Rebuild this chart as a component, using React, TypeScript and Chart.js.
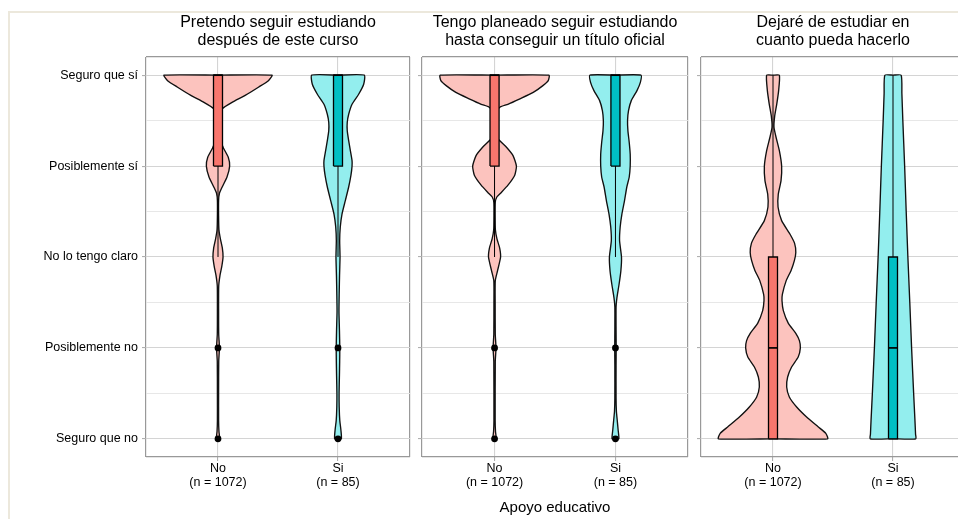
import React, { useEffect, useRef } from 'react';
import { Chart, registerables } from 'chart.js';

Chart.register(...registerables);
Chart.defaults.font.family = "'Liberation Sans', Arial, Helvetica, sans-serif";
Chart.defaults.color = '#000';

// ---------- text ----------
const answerLevels = ['Seguro que no', 'Posiblemente no', 'No lo tengo claro', 'Posiblemente sí', 'Seguro que sí'];
const groupNames = ['No', 'Si'];
const groupSizes = ['(n = 1072)', '(n = 85)'];
const panelTitles: string[][] = [
  ['Pretendo seguir estudiando', 'después de este curso'],
  ['Tengo planeado seguir estudiando', 'hasta conseguir un título oficial'],
  ['Dejaré de estudiar en', 'cuanto pueda hacerlo'],
];
const xAxisTitle = 'Apoyo educativo';

// ---------- violin half-widths: [answer level (1..5), half width in group units] ----------
const violinP1No: [number, number][] = [
  [1.0, 0.014], [1.08, 0.008], [1.2, 0.005], [1.5, 0.005], [1.85, 0.006], [2.0, 0.012], [2.15, 0.006],
  [2.4, 0.005], [2.68, 0.006], [2.8, 0.017], [2.9, 0.032], [3.0, 0.042], [3.1, 0.036], [3.2, 0.02],
  [3.3, 0.008], [3.45, 0.005], [3.62, 0.005], [3.7, 0.012], [3.77, 0.035], [3.88, 0.075], [4.0, 0.097],
  [4.1, 0.085], [4.2, 0.045], [4.3, 0.02], [4.45, 0.016], [4.56, 0.02], [4.63, 0.035], [4.7, 0.117],
  [4.78, 0.23], [4.87, 0.34], [4.94, 0.42], [5.0, 0.45],
];
const violinP1Si: [number, number][] = [
  [1.0, 0.028], [1.1, 0.024], [1.2, 0.015], [1.35, 0.01], [1.5, 0.009], [1.7, 0.012], [1.85, 0.014],
  [2.0, 0.015], [2.2, 0.012], [2.4, 0.008], [2.6, 0.01], [2.8, 0.013], [3.0, 0.017], [3.18, 0.014],
  [3.33, 0.019], [3.47, 0.033], [3.62, 0.061], [3.77, 0.089], [3.9, 0.108], [4.0, 0.117], [4.06, 0.117],
  [4.17, 0.103], [4.28, 0.089], [4.39, 0.077], [4.48, 0.077], [4.57, 0.089], [4.68, 0.117], [4.79, 0.172],
  [4.9, 0.214], [5.0, 0.219],
];
const violinP2No: [number, number][] = [
  [1.0, 0.014], [1.08, 0.008], [1.2, 0.005], [1.85, 0.006], [2.0, 0.012], [2.15, 0.006], [2.5, 0.005],
  [2.74, 0.006], [2.85, 0.025], [3.0, 0.05], [3.1, 0.042], [3.2, 0.02], [3.3, 0.007], [3.45, 0.005],
  [3.6, 0.006], [3.66, 0.019], [3.71, 0.056], [3.79, 0.111], [3.9, 0.167], [4.0, 0.181], [4.115, 0.153],
  [4.21, 0.097], [4.3, 0.03], [4.4, 0.018], [4.52, 0.016], [4.61, 0.022], [4.65, 0.047], [4.68, 0.11],
  [4.74, 0.21], [4.81, 0.32], [4.885, 0.4], [4.94, 0.444], [5.0, 0.45],
];
const violinP2Si: [number, number][] = [
  [1.0, 0.028], [1.1, 0.022], [1.2, 0.015], [1.3, 0.008], [1.45, 0.005], [1.8, 0.005], [2.0, 0.006],
  [2.2, 0.005], [2.45, 0.005], [2.55, 0.012], [2.7, 0.03], [2.85, 0.045], [3.0, 0.05], [3.18, 0.034],
  [3.33, 0.039], [3.47, 0.053], [3.62, 0.075], [3.77, 0.094], [3.88, 0.114], [4.0, 0.122], [4.13, 0.122],
  [4.26, 0.114], [4.39, 0.103], [4.5, 0.1], [4.61, 0.108], [4.72, 0.131], [4.83, 0.178], [4.92, 0.206],
  [5.0, 0.211],
];
const violinP3No: [number, number][] = [
  [1.0, 0.455], [1.06, 0.44], [1.13, 0.378], [1.24, 0.28], [1.35, 0.197], [1.46, 0.136], [1.57, 0.114],
  [1.68, 0.122], [1.79, 0.155], [1.9, 0.21], [2.0, 0.228], [2.08, 0.22], [2.16, 0.19], [2.27, 0.128],
  [2.41, 0.086], [2.52, 0.075], [2.59, 0.078], [2.74, 0.11], [2.85, 0.15], [2.96, 0.178], [3.05, 0.19],
  [3.15, 0.18], [3.25, 0.142], [3.4, 0.072], [3.55, 0.042], [3.69, 0.044], [3.84, 0.067], [4.0, 0.072],
  [4.17, 0.053], [4.32, 0.025], [4.43, 0.008], [4.55, 0.014], [4.68, 0.031], [4.83, 0.047], [5.0, 0.053],
];
const violinP3Si: [number, number][] = [
  [1.0, 0.19], [1.05, 0.188], [1.2, 0.183], [1.5, 0.172], [2.0, 0.155], [2.5, 0.14], [3.0, 0.124],
  [3.5, 0.11], [4.0, 0.097], [4.5, 0.082], [4.8, 0.074], [5.0, 0.068],
];

// ---------- box stats: [lower whisker, Q1, median, Q3, upper whisker] ----------
const boxP1No = [3, 4, 5, 5, 5];
const boxP1Si = [3, 4, 5, 5, 5];
const boxP2No = [3, 4, 5, 5, 5];
const boxP2Si = [3, 4, 5, 5, 5];
const boxP3No = [1, 1, 2, 3, 5];
const boxP3Si = [1, 1, 2, 3, 5];

// ---------- outliers ----------
const outliersP1No = [2, 1];
const outliersP1Si = [2, 1];
const outliersP2No = [2, 1];
const outliersP2Si = [2, 1];
const outliersP3No: number[] = [];
const outliersP3Si: number[] = [];

const panels = [
  { title: panelTitles[0], violins: [violinP1No, violinP1Si], boxes: [boxP1No, boxP1Si], outliers: [outliersP1No, outliersP1Si] },
  { title: panelTitles[1], violins: [violinP2No, violinP2Si], boxes: [boxP2No, boxP2Si], outliers: [outliersP2No, outliersP2Si] },
  { title: panelTitles[2], violins: [violinP3No, violinP3Si], boxes: [boxP3No, boxP3Si], outliers: [outliersP3No, outliersP3Si] },
];

// ---------- style / layout ----------
const groupPos = [1, 2];
const violinFill = ['#fcc3be', '#93eeee'];
const boxFill = ['#f8766d', '#00bfc4'];
const BOX_HALF = 0.0375;
const X_MIN = 0.4, X_MAX = 2.6, Y_MIN = 0.8, Y_MAX = 5.2;
const xTickValues = [X_MIN, 1, 2, X_MAX];
const yTickValues = [Y_MIN, 1, 1.5, 2, 2.5, 3, 3.5, 4, 4.5, 5, Y_MAX];
const CANVAS_H = 519;
const panelLayouts = [
  { left: 0, width: 418, yAxisWidth: 146, showYLabels: true, showXTitle: false },
  { left: 414, width: 282, yAxisWidth: 8, showYLabels: false, showXTitle: true },
  { left: 693, width: 280, yAxisWidth: 8, showYLabels: false, showXTitle: false },
];
const borderColor = '#999999';
const majorGrid = '#d4d4d4';
const minorGrid = '#e4e4e4';
const tickMarkColor = '#b0b0b0';

const isEdge = (v: number, a: number, b: number) => Math.abs(v - a) < 1e-9 || Math.abs(v - b) < 1e-9;

function buildDatasets(panel: typeof panels[number]) {
  const ds: any[] = [];
  panel.violins.forEach((profile, g) => {
    const cx = groupPos[g];
    const yBottom = profile[0][0];
    const yTop = profile[profile.length - 1][0];
    const right = profile.map(([y, w]) => ({ x: cx + w, y }));
    const left = [...profile].reverse().map(([y, w]) => ({ x: cx - w, y }));
    ds.push({
      data: [{ x: cx, y: yBottom }, ...right, { x: cx, y: yTop }, ...left, { x: cx, y: yBottom }],
      fill: 'shape', backgroundColor: violinFill[g], borderColor: '#111', borderWidth: 1.35,
      tension: 0.18, pointRadius: 0, borderJoinStyle: 'round', order: 5,
    });
  });
  panel.boxes.forEach((b, g) => {
    const cx = groupPos[g];
    const [lo, q1, med, q3, hi] = b;
    ds.push({ data: [{ x: cx, y: lo }, { x: cx, y: q1 }], borderColor: '#000', borderWidth: 1, pointRadius: 0, fill: false, order: 4 });
    ds.push({ data: [{ x: cx, y: q3 }, { x: cx, y: hi }], borderColor: '#000', borderWidth: 1, pointRadius: 0, fill: false, order: 4 });
    ds.push({
      data: [
        { x: cx - BOX_HALF, y: q1 }, { x: cx + BOX_HALF, y: q1 }, { x: cx + BOX_HALF, y: q3 },
        { x: cx - BOX_HALF, y: q3 }, { x: cx - BOX_HALF, y: q1 },
      ],
      fill: 'shape', backgroundColor: boxFill[g], borderColor: '#000', borderWidth: 1.3, pointRadius: 0, tension: 0, order: 3,
    });
    ds.push({ data: [{ x: cx - BOX_HALF, y: med }, { x: cx + BOX_HALF, y: med }], borderColor: '#000', borderWidth: 1.7, pointRadius: 0, fill: false, order: 2 });
  });
  panel.outliers.forEach((o, g) => {
    ds.push({
      data: o.map((y) => ({ x: groupPos[g], y })),
      showLine: false, pointRadius: 3.4, pointBackgroundColor: '#000', pointBorderWidth: 0, order: 1,
    });
  });
  return ds;
}

function Panel({ index }: { index: number }) {
  const ref = useRef<HTMLCanvasElement>(null);
  const lay = panelLayouts[index];
  useEffect(() => {
    if (!ref.current) return;
    const panel = panels[index];
    const chart = new Chart(ref.current, {
      type: 'line',
      data: { datasets: buildDatasets(panel) },
      options: {
        responsive: false,
        animation: false,
        events: [],
        layout: { padding: { left: 0, right: 8, top: 0, bottom: 0 } },
        plugins: {
          legend: { display: false },
          tooltip: { enabled: false },
          title: {
            display: true, text: panel.title, fullSize: false, color: '#000',
            font: { size: 16, lineHeight: 1.125, weight: 'normal' },
            padding: { top: 14, bottom: 7 },
          },
        },
        scales: {
          x: {
            type: 'linear', min: X_MIN, max: X_MAX,
            afterBuildTicks: (s: any) => { s.ticks = xTickValues.map((v) => ({ value: v })); },
            afterFit: (s: any) => { s.height = 62; },
            ticks: {
              autoSkip: false, maxRotation: 0, minRotation: 0, padding: 1, color: '#000',
              font: { size: 12.5, lineHeight: 1.1 },
              callback: (v: any) => {
                const i = groupPos.indexOf(Number(v));
                return i >= 0 ? [groupNames[i], groupSizes[i]] : '';
              },
            },
            grid: {
              tickLength: 4,
              color: (c: any) => (isEdge(c.tick.value, X_MIN, X_MAX) ? borderColor : majorGrid),
              lineWidth: (c: any) => (isEdge(c.tick.value, X_MIN, X_MAX) ? 1.2 : 1.1),
              tickColor: (c: any) => (isEdge(c.tick.value, X_MIN, X_MAX) ? 'rgba(0,0,0,0)' : tickMarkColor),
            },
            border: { display: false },
            title: {
              display: lay.showXTitle, text: xAxisTitle, color: '#000',
              font: { size: 15, lineHeight: 1.2 }, padding: { top: 0, bottom: 2 },
            },
          },
          y: {
            type: 'linear', min: Y_MIN, max: Y_MAX,
            afterBuildTicks: (s: any) => { s.ticks = yTickValues.map((v) => ({ value: v })); },
            afterFit: (s: any) => { s.width = lay.yAxisWidth; },
            ticks: {
              display: lay.showYLabels, autoSkip: false, padding: 4, color: '#000',
              font: { size: 12.5 },
              callback: (v: any) => {
                const n = Number(v);
                return Number.isInteger(n) && n >= 1 && n <= 5 ? answerLevels[n - 1] : '';
              },
            },
            grid: {
              tickLength: 4,
              color: (c: any) => {
                const v = c.tick.value;
                if (isEdge(v, Y_MIN, Y_MAX)) return borderColor;
                return Number.isInteger(v) ? majorGrid : minorGrid;
              },
              lineWidth: (c: any) => {
                const v = c.tick.value;
                if (isEdge(v, Y_MIN, Y_MAX)) return 1.2;
                return Number.isInteger(v) ? 1.1 : 0.9;
              },
              tickColor: (c: any) => {
                const v = c.tick.value;
                return !isEdge(v, Y_MIN, Y_MAX) && Number.isInteger(v) ? tickMarkColor : 'rgba(0,0,0,0)';
              },
            },
            border: { display: false },
          },
        },
      } as any,
    });
    return () => chart.destroy();
  }, [index]);
  return (
    <canvas
      ref={ref}
      width={lay.width}
      height={CANVAS_H}
      style={{ position: 'absolute', left: lay.left, top: 0, width: lay.width, height: CANVAS_H }}
    />
  );
}

export default function App() {
  return (
    <div style={{ position: 'fixed', left: 0, top: 0, width: 958, height: 519, overflow: 'hidden', background: '#fff' }}>
      <div style={{ position: 'absolute', left: 8, top: 11, width: 1200, height: 1000, border: '2px solid #ece8dc', boxSizing: 'border-box' }} />
      {panels.map((_, i) => (
        <Panel key={i} index={i} />
      ))}
    </div>
  );
}
